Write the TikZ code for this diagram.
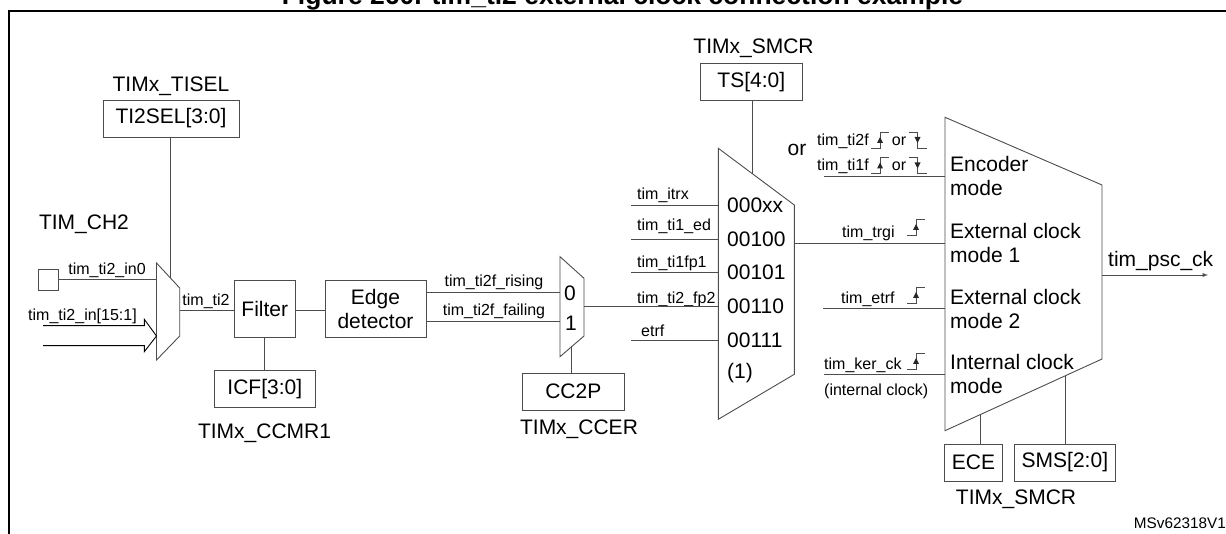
\documentclass[tikz,border=0pt]{standalone}
\usepackage{fontspec}
\setmainfont{Liberation Sans}
\tikzset{
  wire/.style={line width=0.9pt, draw=black!70},
  regbox/.style={draw=black!70, line width=0.9pt, inner sep=0pt, font=\fontsize{21}{24}\selectfont, align=center},
  biglabel/.style={inner sep=0pt, font=\fontsize{21}{24}\selectfont, text height=15pt, text depth=0pt},
  siglabel/.style={inner sep=0pt, font=\fontsize{16}{19}\selectfont, text height=11.5pt, text depth=0pt},
  modelabel/.style={inner sep=0pt, anchor=west, align=left, font=\fontsize{21}{24}\selectfont},
  rising/.pic={
    \draw[wire] (-9,8) -- (0,8) -- (0,-8) -- (9,-8);
    \fill[black!85] (0,-3) -- (3,3) -- (-3,3) -- cycle;
  },
  falling/.pic={
    \draw[wire] (-9,-8) -- (0,-8) -- (0,8) -- (9,8);
    \fill[black!85] (0,3) -- (3,-3) -- (-3,-3) -- cycle;
  }
}
\begin{document}
\begin{tikzpicture}[x=1pt,y=-1pt]
\useasboundingbox (0,0) rectangle (1226,534);
\node[inner sep=0pt, anchor=base, font=\fontsize{26.5}{30}\selectfont\bfseries] (title) at (622.5,4.5) {Figure 260. tim\_ti2 external clock connection example};
\coordinate (framene) at (1226,11);
\coordinate (framenw) at (9,11);
\coordinate (framesw) at (9,534);
\draw[line width=2pt] (framene) -- (framenw) -- (framesw);

\coordinate (inmuxnw) at (156.5,263);
\coordinate (inmuxne) at (179.7,288);
\coordinate (inmuxse) at (179.7,336);
\coordinate (inmuxsw) at (156.5,360);
\coordinate (inmuxsel) at (170,278);
\coordinate (inmuxout) at (179.7,310.7);
\draw[wire] (inmuxnw) -- (inmuxne) -- (inmuxse) -- (inmuxsw) -- cycle;

\coordinate (polmuxnw) at (560,256.7);
\coordinate (polmuxne) at (584,278.3);
\coordinate (polmuxse) at (584,336);
\coordinate (polmuxsw) at (560,356.7);
\coordinate (polmuxsel) at (571,346.5);
\coordinate (polmuxout) at (584,306.7);
\draw[wire] (polmuxnw) -- (polmuxne) -- (polmuxse) -- (polmuxsw) -- cycle;

\coordinate (trgmuxnw) at (718.3,148.3);
\coordinate (trgmuxne) at (794.3,205);
\coordinate (trgmuxse) at (794.3,374.3);
\coordinate (trgmuxsw) at (718.3,419.3);
\coordinate (trgmuxsel) at (752.5,173.8);
\coordinate (trgmuxout) at (794.3,243);
\draw[wire] (trgmuxnw) -- (trgmuxne) -- (trgmuxse) -- (trgmuxsw) -- cycle;

\coordinate (modemuxnw) at (945,117.3);
\coordinate (modemuxne) at (1102,185);
\coordinate (modemuxse) at (1102,359);
\coordinate (modemuxsw) at (945,430.7);
\coordinate (modemuxece) at (980,414.7);
\coordinate (modemuxsms) at (1065,375.9);
\coordinate (modemuxout) at (1102,275);
\draw[wire] (modemuxnw) -- (modemuxne) -- (modemuxse) -- (modemuxsw) -- cycle;

\node[biglabel] (tiselname) at (171,84) {TIMx\_TISEL};
\node[regbox, minimum width=136pt, minimum height=37pt] (tiselbox) at (171,118.5) {TI2SEL[3:0]};
\node[biglabel] (chname) at (84,222) {TIM\_CH2};
\node[draw=black!70, line width=0.9pt, inner sep=0pt, minimum width=20pt, minimum height=21pt] (padbox) at (48.5,279.5) {};
\node[siglabel] (inzero) at (107,269) {tim\_ti2\_in0};
\node[siglabel] (inbus) at (82.5,315) {tim\_ti2\_in[15:1]};
\node[siglabel] (tiname) at (206,300) {tim\_ti2};
\node[regbox, minimum width=61.5pt, minimum height=56.5pt] (filterbox) at (264.8,309.2) {Filter};
\node[regbox, minimum width=101pt, minimum height=56.5pt] (edgebox) at (375.5,309.2) {Edge\\detector};
\node[regbox, minimum width=101.5pt, minimum height=36.7pt] (icfbox) at (264.8,389.3) {ICF[3:0]};
\node[biglabel] (ccmrname) at (264.5,431) {TIMx\_CCMR1};
\node[siglabel] (risename) at (494,281) {tim\_ti2f\_rising};
\node[siglabel] (failname) at (494,310) {tim\_ti2f\_failing};
\node[biglabel] (polzero) at (570,293) {0};
\node[biglabel] (polone) at (571,323) {1};
\node[regbox, minimum width=101.3pt, minimum height=37pt] (ccpbox) at (573.3,391.5) {CC2P};
\node[biglabel] (ccername) at (579,427) {TIMx\_CCER};
\node[biglabel] (smcrtop) at (753.5,46) {TIMx\_SMCR};
\node[regbox, minimum width=101.3pt, minimum height=36.5pt] (tsbox) at (751.3,82.2) {TS[4:0]};
\node[siglabel, anchor=west] (itrxname) at (637,194) {tim\_itrx};
\node[siglabel, anchor=west] (edname) at (637,225) {tim\_ti1\_ed};
\node[siglabel, anchor=west] (fponename) at (637,262) {tim\_ti1fp1};
\node[siglabel, anchor=west] (fptwoname) at (637,298) {tim\_ti2\_fp2};
\node[siglabel, anchor=west] (etrfname) at (641,331) {etrf};
\node[biglabel, anchor=west] (codea) at (727,205) {000xx};
\node[biglabel, anchor=west] (codeb) at (727,239) {00100};
\node[biglabel, anchor=west] (codec) at (727,272) {00101};
\node[biglabel, anchor=west] (coded) at (727,306) {00110};
\node[biglabel, anchor=west] (codee) at (727,340) {00111};
\node[biglabel, anchor=west] (codef) at (727,371) {(1)};
\node[biglabel] (orname) at (797,148) {or};
\node[siglabel, anchor=west] (titwoname) at (817,140) {tim\_ti2f};
\node[siglabel] (ortwo) at (899,140) {or};
\node[siglabel, anchor=west] (tionename) at (817,165) {tim\_ti1f};
\node[siglabel] (orone) at (899,165) {or};
\node[siglabel, anchor=west] (trginame) at (842,232) {tim\_trgi};
\node[siglabel, anchor=west] (etrfsig) at (841,298) {tim\_etrf};
\node[siglabel, anchor=west] (kername) at (824,364) {tim\_ker\_ck};
\node[siglabel, anchor=west] (intername) at (824,390) {(internal clock)};
\node[modelabel] (modeenc) at (950,176) {Encoder\\mode};
\node[modelabel] (modeone) at (950,242.5) {External clock\\mode 1};
\node[modelabel] (modetwo) at (950,308.5) {External clock\\mode 2};
\node[modelabel] (modeint) at (950,374) {Internal clock\\mode};
\node[biglabel, anchor=west] (pscname) at (1108,259) {tim\_psc\_ck};
\node[regbox, minimum width=58.4pt, minimum height=37pt] (ecebox) at (973.5,462.5) {ECE};
\node[regbox, minimum width=101.7pt, minimum height=37pt] (smsbox) at (1064.9,462.5) {SMS[2:0]};
\node[biglabel] (smcrlow) at (1016,497) {TIMx\_SMCR};
\node[inner sep=0pt, anchor=east, font=\fontsize{15.3}{18}\selectfont] (version) at (1226,523) {MSv62318V1};

\pic at (880,140) {rising};
\pic at (917.5,140) {falling};
\pic at (880,165.5) {rising};
\pic at (917.5,165.5) {falling};
\pic at (916,227) {rising};
\pic at (916,295) {rising};
\pic at (916,361) {rising};

\coordinate (busatail) at (43,325.7);
\coordinate (busaneck) at (144.3,325.7);
\coordinate (busabarb) at (144.3,319.3);
\coordinate (bustip) at (156.5,336);
\coordinate (busbbarb) at (144.3,351.7);
\coordinate (busbneck) at (144.3,345.7);
\coordinate (busbtail) at (43,345.7);
\draw[wire, black] (busatail) -- (busaneck) -- (busabarb) -- (bustip) -- (busbbarb) -- (busbneck) -- (busbtail);

\coordinate (itrxin) at (631,205);
\coordinate (edin) at (631,239);
\coordinate (fponein) at (631,272.7);
\coordinate (etrfin) at (631,340.3);
\coordinate (encin) at (824,176.7);
\coordinate (etrfsigin) at (823,308.3);
\coordinate (kerin) at (824,374.3);
\coordinate (pscend) at (1208,275);
\coordinate (riseout) at (426,292.7);
\coordinate (failout) at (426,321.3);

\draw[wire] (inmuxsel |- tiselbox.south) -- (inmuxsel);
\draw[wire] (padbox.east) -- (padbox.east -| inmuxnw);
\draw[wire] (inmuxout) -- (inmuxout -| filterbox.west);
\draw[wire] (filterbox.east |- inmuxout) -- (edgebox.west |- inmuxout);
\draw[wire] (filterbox.south) -- (icfbox.north);
\draw[wire] (riseout) -- (riseout -| polmuxnw);
\draw[wire] (failout) -- (failout -| polmuxnw);
\draw[wire] (polmuxsel) -- (polmuxsel |- ccpbox.north);
\draw[wire] (polmuxout) -- (polmuxout -| trgmuxnw);
\draw[wire] (trgmuxsel |- tsbox.south) -- (trgmuxsel);
\draw[wire] (itrxin) -- (itrxin -| trgmuxnw);
\draw[wire] (edin) -- (edin -| trgmuxnw);
\draw[wire] (fponein) -- (fponein -| trgmuxnw);
\draw[wire] (etrfin) -- (etrfin -| trgmuxnw);
\draw[wire] (trgmuxout) -- (trgmuxout -| modemuxnw);
\draw[wire] (encin) -- (encin -| modemuxnw);
\draw[wire] (etrfsigin) -- (etrfsigin -| modemuxnw);
\draw[wire] (kerin) -- (kerin -| modemuxnw);
\draw[wire] (modemuxece) -- (modemuxece |- ecebox.north);
\draw[wire] (modemuxsms) -- (modemuxsms |- smsbox.north);
\draw[wire, -latex] (modemuxout) -- (pscend);
\end{tikzpicture}
\end{document}
